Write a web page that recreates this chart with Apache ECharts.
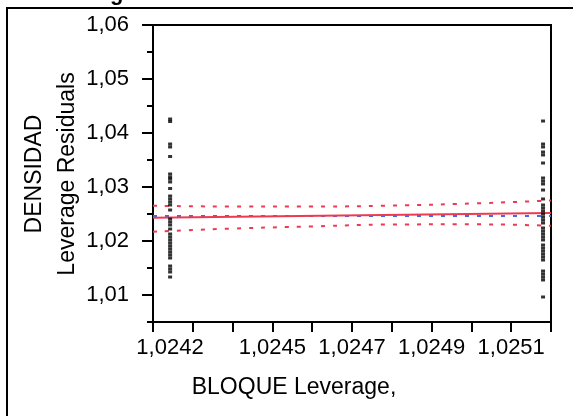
<!DOCTYPE html>
<html>
<head>
<meta charset="utf-8">
<script src="https://cdn.jsdelivr.net/npm/echarts@6/dist/echarts.min.js"></script>
<style>
  html, body { margin: 0; padding: 0; background: #fff; }
  #main { width: 573px; height: 416px; }
</style>
</head>
<body>
<div id="main"></div>
<script>
// valores
var groupX = [1.024243, 1.02518];
var leftY = [1.04259, 1.04213, 1.03796, 1.03741, 1.03565, 1.03241, 1.03185, 1.03148,
  1.03093, 1.02972, 1.02833, 1.02778, 1.02722, 1.02667, 1.02574, 1.02407, 1.02352,
  1.02296, 1.02222, 1.0213, 1.02074, 1.02019, 1.01963, 1.01907, 1.01852, 1.01796,
  1.01741, 1.01685, 1.01537, 1.01481, 1.01426, 1.01333];
var rightY = [1.04222, 1.03796, 1.03741, 1.03648, 1.03593, 1.03444, 1.03167, 1.03111,
  1.03056, 1.02944, 1.02778, 1.02667, 1.02611, 1.02556, 1.025, 1.02444, 1.02389,
  1.02333, 1.02241, 1.02185, 1.0213, 1.02074, 1.02019, 1.01926, 1.0187, 1.01815,
  1.01759, 1.01704, 1.01648, 1.01444, 1.01389, 1.01333, 1.01278, 1.00963];
var fitX = [1.0242, 1.0252];
var fitY = [1.02431, 1.02519];
var meanY = 1.02463;
var bandX = [1.0242, 1.0244, 1.0246, 1.0248, 1.025, 1.0252];
var upperBand = [1.02654, 1.02639, 1.02639, 1.02657, 1.02694, 1.0275];
var lowerBand = [1.02172, 1.02231, 1.02269, 1.02306, 1.02309, 1.02281];

var xTickValues = [1.0242, 1.0243, 1.0244, 1.0245, 1.0246, 1.0247, 1.0248, 1.0249, 1.025, 1.0251, 1.0252];
var xLabelValues = [1.0242, 1.0245, 1.0247, 1.0249, 1.0251];
var yLabelValues = [1.01, 1.02, 1.03, 1.04, 1.05, 1.06];
var yMinorValues = [1.005, 1.015, 1.025, 1.035, 1.045, 1.055];

var FONT = '"Liberation Sans", Arial, sans-serif';

function pairs(xs, ys) {
  return xs.map(function (x, i) { return [x, ys[i]]; });
}
function comma(v) {
  return v.toString().replace('.', ',');
}

var myChart = echarts.init(document.getElementById('main'));
myChart.setOption({
  animation: false,
  backgroundColor: '#fff',
  grid: {
    show: true,
    left: 153, top: 25, right: 22, bottom: 94,
    borderColor: '#000', borderWidth: 2
  },
  xAxis: {
    type: 'value',
    min: 1.0242, max: 1.0252,
    splitLine: { show: false },
    axisLine: { lineStyle: { color: '#000', width: 2 } },
    axisTick: { customValues: xTickValues, length: 10, lineStyle: { color: '#000', width: 2 } },
    axisLabel: {
      customValues: xLabelValues,
      margin: 15,
      color: '#000',
      fontFamily: FONT,
      fontSize: 22,
      formatter: function (v) {
        var s = comma(v.toFixed(4));
        return Math.abs(v - xLabelValues[0]) < 1e-7 ? '{first|' + s + '}' : s;
      },
      rich: { first: { padding: [0, 0, 0, 34], fontFamily: FONT, fontSize: 22, color: '#000' } }
    }
  },
  yAxis: [{
    type: 'value',
    min: 1.005, max: 1.06,
    splitLine: { show: false },
    axisLine: { lineStyle: { color: '#000', width: 2 } },
    axisTick: { customValues: yLabelValues, length: 11, lineStyle: { color: '#000', width: 2 } },
    axisLabel: {
      customValues: yLabelValues,
      margin: 24,
      color: '#000',
      fontFamily: FONT,
      fontSize: 22,
      formatter: function (v) { return comma(v.toFixed(2)); }
    }
  }, {
    type: 'value',
    position: 'left',
    min: 1.005, max: 1.06,
    splitLine: { show: false },
    axisLine: { show: false },
    axisLabel: { show: false },
    axisTick: { customValues: yMinorValues, length: 6, lineStyle: { color: '#000', width: 2 } }
  }],
  series: [
    {
      type: 'line', data: pairs(bandX, upperBand), smooth: true, symbol: 'none',
      lineStyle: { color: '#ee3a50', width: 2, type: [4, 8] }, z: 3
    },
    {
      type: 'line', data: pairs(bandX, lowerBand), smooth: true, symbol: 'none',
      lineStyle: { color: '#ee3a50', width: 2, type: [4, 8] }, z: 3
    },
    {
      type: 'line', data: [[fitX[0], meanY], [fitX[1], meanY]], symbol: 'none',
      lineStyle: { color: '#3a6cf0', width: 2, type: [4, 8] }, z: 3
    },
    {
      type: 'line', data: pairs(fitX, fitY), symbol: 'none',
      lineStyle: { color: '#ee3a50', width: 2 }, z: 4
    },
    {
      type: 'scatter', symbol: 'rect', symbolSize: [4, 3],
      itemStyle: { color: '#000' },
      data: leftY.map(function (y) { return [groupX[0], y]; }), z: 5
    },
    {
      type: 'scatter', symbol: 'rect', symbolSize: [4, 3],
      itemStyle: { color: '#000' },
      data: rightY.map(function (y) { return [groupX[1], y]; }), z: 5
    }
  ],
  graphic: [
    {
      type: 'rect', shape: { x: 7, y: 8, width: 620, height: 460 },
      style: { fill: 'none', stroke: '#000', lineWidth: 2 }, silent: true
    },
    {
      type: 'text', x: 39, y: 5,
      style: { text: 'Leverage Plot', font: 'bold 22px ' + FONT, fill: '#000', verticalAlign: 'bottom' }
    },
    {
      type: 'text', x: 35, y: 174, rotation: Math.PI / 2,
      style: { text: 'DENSIDAD', font: '23px ' + FONT, fill: '#000', align: 'center', verticalAlign: 'middle' }
    },
    {
      type: 'text', x: 68, y: 174, rotation: Math.PI / 2,
      style: { text: 'Leverage Residuals', font: '23px ' + FONT, fill: '#000', align: 'center', verticalAlign: 'middle' }
    },
    {
      type: 'text', x: 294, y: 388,
      style: { text: 'BLOQUE Leverage,', font: '23px ' + FONT, fill: '#000', align: 'center', verticalAlign: 'middle' }
    }
  ]
});
</script>
</body>
</html>
